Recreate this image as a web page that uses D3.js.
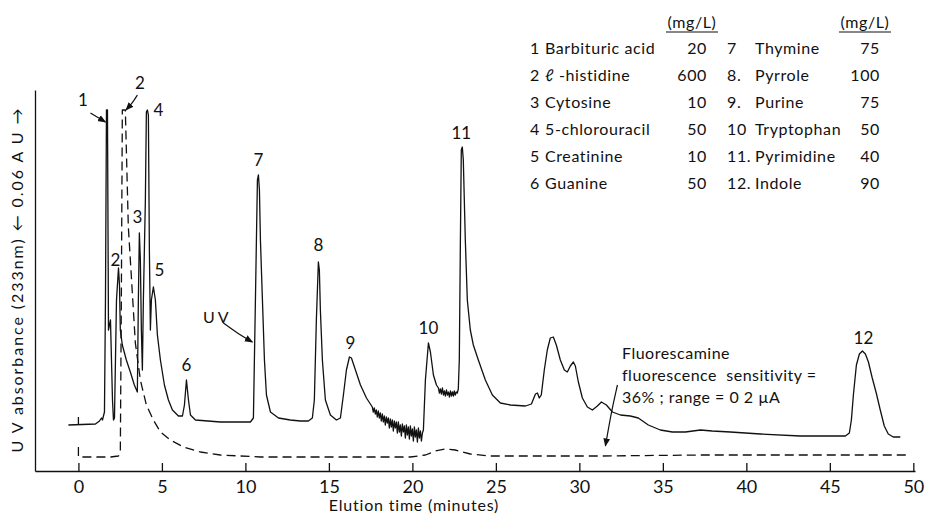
<!DOCTYPE html>
<meta charset="utf-8">
<title>Elution profile</title>
<style>
body { margin: 0; background: #fff; }
svg { display: block; font-family: Lato, "Open Sans", "DejaVu Sans", sans-serif; }
text { fill: #111; }
.trace { fill: none; stroke: #111; stroke-width: 1.3px; stroke-linejoin: round; }
.trace--fl { stroke-dasharray: 9,5; }
.peak-label { font-size: 17px; text-anchor: middle; }
.axis path, .axis line { stroke: #111; stroke-width: 1.3px; }
.axis text { font-size: 18px; font-family: Lato, sans-serif; }
.legend text { font-size: 16px; letter-spacing: 0.6px; }
.note { font-size: 16px; letter-spacing: 0.5px; }
.pointer { fill: none; stroke: #111; stroke-width: 1.2px; }
</style>
<svg width="929" height="522"></svg>
<script src="https://d3js.org/d3.v7.min.js"></script>
<script>

// elution time (min) vs detector response
var uvTrace = [[-0.6,4.6],[1.02,4.7],[1.26,5.0],[1.38,5.3],[1.44,5.1],[1.56,5.9],[1.62,17.1],[1.68,36.1],[1.74,36.1],[1.80,14.1],[1.92,15.1],[1.98,11.1],[2.04,7.1],[2.10,5.1],[2.16,5.3],[2.28,17.1],[2.40,20.3],[2.46,18.6],[2.51,14.1],[2.63,12.6],[2.87,11.1],[3.11,9.9],[3.35,8.6],[3.53,7.9],[3.59,17.1],[3.65,23.8],[3.71,21.1],[3.77,14.1],[3.83,10.1],[3.89,17.1],[4.01,27.1],[4.07,35.9],[4.13,36.1],[4.19,35.6],[4.25,22.1],[4.31,14.1],[4.37,17.1],[4.49,18.4],[4.61,17.1],[4.73,13.6],[4.91,11.1],[5.15,8.6],[5.39,7.1],[5.63,6.1],[5.99,5.5],[6.23,5.5],[6.35,6.6],[6.47,9.1],[6.59,7.1],[6.71,5.6],[7.01,5.1],[8.50,4.9],[10.30,4.9],[10.48,5.3],[10.60,17.1],[10.72,29.1],[10.78,29.6],[10.84,28.1],[10.90,23.1],[11.02,17.1],[11.14,11.1],[11.26,7.6],[11.50,5.9],[11.98,5.3],[12.69,5.1],[13.29,5.0],[13.77,5.0],[14.01,5.3],[14.13,7.1],[14.25,15.1],[14.37,20.9],[14.43,20.1],[14.49,16.1],[14.61,11.1],[14.79,7.1],[15.09,5.6],[15.45,5.1],[15.69,5.3],[15.87,7.6],[16.05,10.1],[16.23,11.4],[16.35,11.3],[16.59,10.1],[16.89,8.6],[17.25,7.3],
  [17.60,6.4],[17.66,5.9],[17.72,6.3],[17.78,5.7],[17.84,6.1],[17.90,5.4],[17.96,6.0],[18.02,5.3],[18.08,5.8],[18.14,5.0],[18.20,5.7],[18.26,4.9],[18.32,5.5],[18.38,4.6],[18.44,5.4],[18.50,4.8],[18.56,5.3],[18.62,4.3],[18.68,5.2],[18.74,4.4],[18.80,5.1],[18.86,4.0],[18.92,5.0],[18.98,4.3],[19.04,4.9],[19.10,3.8],[19.16,4.9],[19.22,3.9],[19.28,4.6],[19.34,3.5],[19.40,4.7],[19.46,3.9],[19.52,4.5],[19.58,3.3],[19.64,4.6],[19.70,3.6],[19.76,4.4],[19.82,3.2],[19.88,4.5],[19.94,3.5],[20.00,4.2],[20.06,3.0],[20.12,4.4],[20.18,3.4],[20.24,4.1],[20.30,2.9],[20.36,4.3],[20.42,3.3],[20.48,4.0],[20.54,3.0],[20.60,3.8],
  [20.66,4.1],[20.78,9.1],[20.96,12.8],[21.08,11.9],[21.26,9.6],[21.44,8.6],[21.56,8.3],[21.62,7.8],[21.68,8.2],[21.74,7.7],[21.80,8.3],[21.86,7.6],[21.92,8.0],[21.98,7.5],[22.04,8.1],[22.10,7.6],[22.16,7.9],[22.22,7.4],[22.28,8.0],[22.34,7.5],[22.40,7.9],[22.46,7.5],[22.51,8.0],[22.57,7.6],[22.63,7.9],[22.69,7.8],[22.75,8.2],[22.81,11.1],[22.87,22.1],[22.93,32.1],[22.99,32.4],[23.05,31.1],[23.17,23.1],[23.29,17.1],[23.47,14.1],[23.65,12.6],[23.95,11.1],[24.37,9.1],[24.79,7.6],[25.27,6.8],[25.87,6.6],[26.77,6.5],[27.13,6.7],[27.37,7.7],[27.49,7.8],[27.60,7.3],[27.72,7.6],[27.90,10.1],[28.08,12.1],[28.26,13.3],[28.44,13.4],[28.62,12.6],[28.86,11.1],[29.10,10.1],[29.28,9.9],[29.46,10.5],[29.64,10.9],[29.76,10.5],[29.94,8.9],[30.18,7.3],[30.48,6.4],[30.78,6.1],[31.08,6.5],[31.32,6.9],[31.62,6.6],[31.98,5.9],[32.46,5.6],[33.05,5.5],[33.53,5.3],[34.13,4.6],[34.85,4.1],[35.57,3.9],[36.35,3.9],[37.25,4.1],[37.96,4.0],[39.04,3.9],[40.84,3.7],[43.23,3.5],[45.93,3.5],[46.17,3.8],[46.29,5.1],[46.41,7.6],[46.59,10.6],[46.77,11.7],[46.95,12.0],[47.13,11.7],[47.31,10.9],[47.54,9.3],[47.78,7.8],[48.02,6.1],[48.26,4.5],[48.50,3.7],[48.80,3.4],[49.22,3.4]];

var flTrace = [[0,2.4],[0,1.4],[1.92,1.4],[2.40,1.5],[2.51,1.9],[2.57,17.1],[2.63,36.1],[2.81,36.1],[2.99,24.4],[3.23,17.8],[3.41,12.8],[3.71,9.1],[4.07,6.6],[4.49,5.1],[4.91,3.9],[5.51,3.1],[6.29,2.4],[7.31,1.9],[8.50,1.6],[10.90,1.4],[15.09,1.4],[19.88,1.4],[20.78,1.6],[21.38,2.0],[21.98,2.2],[22.57,2.1],[23.47,1.7],[24.67,1.5],[26.47,1.5],[31.26,1.5],[37.25,1.6],[43.23,1.6],[49.82,1.6]];

var injectionTime = 0;

// peak numbers and the apex they belong to
var peakIds   = ["1", "2", "2", "3", "4", "5", "6", "7", "8", "9", "10", "11", "12"];
var peakTimes = [1.71, 2.72, 2.40, 3.65, 4.13, 4.49, 6.47, 10.78, 14.37, 16.23, 20.96, 22.99, 46.95];
var peakApex  = [36.1, 36.1, 20.3, 23.8, 36.1, 18.4, 9.1, 29.6, 20.9, 11.4, 12.8, 32.4, 12.0];

var xTicks = [0, 5, 10, 15, 20, 25, 30, 35, 40, 45, 50];

var compounds = ["Barbituric acid", "\u2113 -histidine", "Cytosine", "5-chlorouracil", "Creatinine", "Guanine",
                 "Thymine", "Pyrrole", "Purine", "Tryptophan", "Pyrimidine", "Indole"];
var compoundNo = ["1", "2", "3", "4", "5", "6", "7", "8.", "9.", "10", "11.", "12."];
var concentrations = [20, 600, 10, 50, 10, 50, 75, 100, 75, 50, 40, 90];

var svg = d3.select("svg");

var x = d3.scaleLinear().domain([-2.6, 50.1]).range([35, 915]);
var y = d3.scaleLinear().domain([0, 38.1]).range([471, 90]);

svg.append("defs").append("marker")
    .attr("id", "head")
    .attr("viewBox", "0 0 10 10")
    .attr("refX", 9).attr("refY", 5)
    .attr("markerWidth", 7).attr("markerHeight", 7)
    .attr("orient", "auto")
  .append("path")
    .attr("d", "M0,1L10,5L0,9z")
    .style("fill", "#111");

/* axes */
svg.append("g")
    .attr("class", "axis")
    .attr("transform", "translate(0," + y(0) + ")")
    .call(d3.axisBottom(x).tickValues(xTicks).tickSizeInner(-8).tickSizeOuter(0).tickPadding(9));

svg.append("g")
    .attr("class", "axis")
    .attr("transform", "translate(" + x.range()[0] + ",0)")
    .call(d3.axisLeft(y).tickValues([]).tickSizeOuter(0));

svg.append("text")
    .attr("transform", "translate(17," + (y.range()[0] + y.range()[1]) / 2 + ") rotate(-90)")
    .attr("text-anchor", "middle")
    .attr("dy", "0.35em")
    .attr("textLength", 344)
    .attr("lengthAdjust", "spacing")
    .style("font-size", "16px")
    .text("U V absorbance (233nm) \u2190 0.06 A U \u2192");

svg.append("text")
    .attr("x", 414).attr("y", 505)
    .attr("text-anchor", "middle")
    .attr("dy", "0.35em")
    .style("font-size", "16px")
    .style("letter-spacing", "0.8px")
    .text("Elution time (minutes)");

/* traces */
var line = d3.line()
    .x(function(d) { return x(d[0]); })
    .y(function(d) { return y(d[1]); });

svg.append("path").datum(flTrace).attr("class", "trace trace--fl").attr("d", line);
svg.append("path").datum(uvTrace).attr("class", "trace").attr("d", line);

// injection mark on the UV pen
var uvStart = uvTrace[0][1];
svg.append("line")
    .attr("class", "trace")
    .attr("x1", x(injectionTime)).attr("x2", x(injectionTime))
    .attr("y1", y(uvStart)).attr("y2", y(uvStart) - 8);

/* peak numbers */
var labelShift = [[-24, -10], [16, -27], [-3, -8], [-2, -16], [11, 0], [6, -17], [0, -15],
                  [0, -15], [0, -17], [1, -14], [0, -15], [-1, -14], [1, -13]];

svg.selectAll(".peak-label")
  .data(peakIds)
  .enter().append("text")
    .attr("class", "peak-label")
    .attr("x", function(d, i) { return x(peakTimes[i]) + labelShift[i][0]; })
    .attr("y", function(d, i) { return y(peakApex[i]) + labelShift[i][1]; })
    .attr("dy", "0.35em")
    .text(function(d) { return d; });

/* pointers */
var curve = d3.line().curve(d3.curveBasis)
    .x(function(d) { return x(d[0]); })
    .y(function(d) { return y(d[1]); });

var pointers = [
  [[0.72, 35.8], [1.62, 34.9]],
  [[3.53, 37.6], [3.23, 36.8], [2.85, 36.1]],
  [[8.68, 14.8], [9.58, 13.7], [10.42, 12.9]],
  [[32.28, 8.6], [31.95, 6.2], [31.56, 2.5]]
];
svg.selectAll(".pointer")
  .data(pointers)
  .enter().append("path")
    .attr("class", "pointer")
    .attr("marker-end", "url(#head)")
    .attr("d", curve);

svg.append("text")
    .attr("x", x(8.32)).attr("y", y(15.4))
    .attr("text-anchor", "middle")
    .attr("dy", "0.35em")
    .style("font-size", "16px")
    .style("letter-spacing", "3px")
    .text("UV");

var note = svg.append("text").attr("class", "note");
["Fluorescamine", "fluorescence  sensitivity =", "36% ; range = 0 2 \u00b5A"].forEach(function(s, i) {
  note.append("tspan")
      .attr("x", 622)
      .attr("y", 353 + i * 22)
      .attr("dy", "0.35em")
      .style("white-space", "pre")
      .text(s);
});

/* legend */
var legend = svg.append("g").attr("class", "legend");
var cols = [{num: 530, name: 545, val: 707}, {num: 727, name: 755, val: 880}];

compounds.forEach(function(name, i) {
  var c = cols[Math.floor(i / 6)], row = i % 6, yy = 48 + row * 27;
  legend.append("text").attr("x", c.num).attr("y", yy).attr("dy", "0.35em").text(compoundNo[i]);
  legend.append("text").attr("x", c.name).attr("y", yy).attr("dy", "0.35em").text(name);
  legend.append("text").attr("x", c.val).attr("y", yy).attr("dy", "0.35em")
      .attr("text-anchor", "end").text(concentrations[i]);
});

cols.forEach(function(c) {
  var cx = c.val - 15;
  legend.append("text").attr("x", cx).attr("y", 22).attr("dy", "0.35em")
      .attr("text-anchor", "middle").text("(mg/L)");
  legend.append("line")
      .attr("x1", cx - 26).attr("x2", cx + 26)
      .attr("y1", 32).attr("y2", 32)
      .style("stroke", "#111").style("stroke-width", 1.2);
});

</script>
